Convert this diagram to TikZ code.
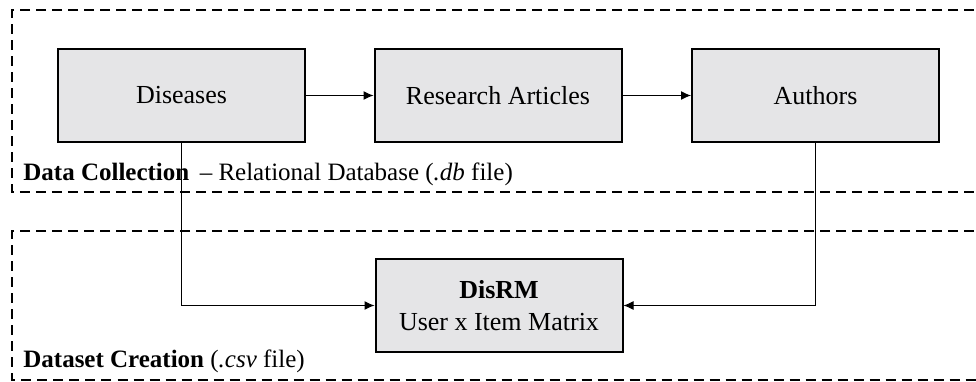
\documentclass[tikz,border=0pt]{standalone}
\usepackage{fontspec}
\setmainfont{Liberation Serif}
\usetikzlibrary{arrows.meta}
\definecolor{boxfill}{RGB}{229,229,231}
\tikzset{
  procbox/.style={draw=black, line width=1pt, fill=boxfill, minimum width=123.5pt, minimum height=46.5pt, inner sep=0pt, align=center, font=\fontsize{13}{16}\selectfont},
  conn/.style={line width=0.5pt, -{Latex[length=5pt,width=4.5pt]}},
  region/.style={line width=1pt, dash pattern=on 5pt off 3pt},
  regionlabel/.style={anchor=base west, inner sep=0pt, font=\fontsize{12.5}{15}\selectfont}
}
\begin{document}
\begin{tikzpicture}[x=0.5pt,y=-0.5pt]
\useasboundingbox (0,0) rectangle (976,381);
\clip (0,0) rectangle (976,381);
% dashed regions
\draw[region] (990,10) -- (12,10) -- (12,192) -- (990,192);
\draw[region] (990,231) -- (12,231) -- (12,379.5) -- (990,379.5);
% boxes
\node[procbox] (dis) at (181.5,95.5) {Diseases};
\node[procbox] (art) at (498,95.5) {Research Articles};
\node[procbox] (aut) at (815.5,95.5) {Authors};
\node[procbox] (disrm) at (499,305.5) {\textbf{DisRM}\\User x Item Matrix};
% labels
\node[regionlabel] (lbl1) at (23,180) {\textbf{Data Collection}\, – Relational Database (\textit{.db} file)};
\node[regionlabel] (lbl2) at (23,367) {\textbf{Dataset Creation} (\textit{.csv} file)};
% connectors
\draw[conn] (dis) -- (art);
\draw[conn] (art) -- (aut);
\draw[conn] (dis.south) |- (disrm.west);
\draw[conn] (aut.south) |- (disrm.east);
\end{tikzpicture}
\end{document}
